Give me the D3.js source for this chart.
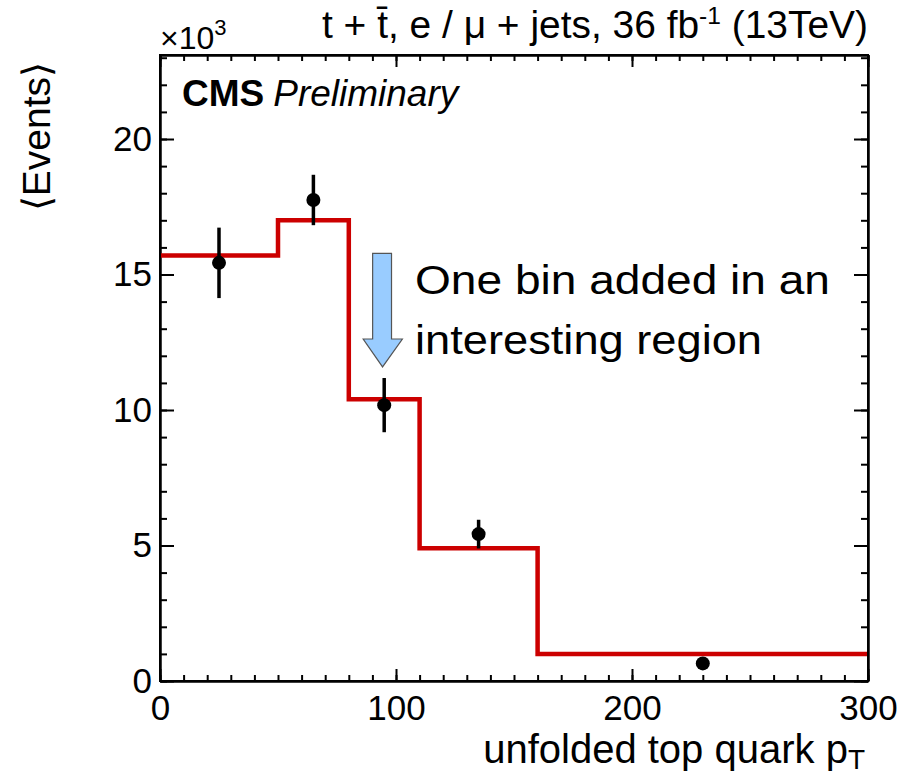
<!DOCTYPE html>
<html><head><meta charset="utf-8">
<script src="https://cdn.jsdelivr.net/npm/d3@7"></script>
<style>
body{margin:0;background:#fff}
text{font-family:"Liberation Sans",Arial,sans-serif;fill:#000}
</style>
</head><body><svg id="c" width="916" height="778"></svg>
<script>
// ---- data ----
const binEdges   = [0, 50, 80, 110, 160, 300];
const predicted  = [15.7, 17.0, 10.4, 4.9, 1.0];      // x10^3 events (red histogram)
const dataValues = [15.43, 17.75, 10.18, 5.42, 0.65];  // x10^3 events (points)
const dataErrors = [1.3, 0.93, 1.0, 0.53, 0.1];
const xTickValues = [0, 100, 200, 300];
const yTickValues = [0, 5, 10, 15, 20];
const xMinorTicks = d3.range(0, 301, 10);
const yMinorTicks = d3.range(0, 23.01, 1);
const arrowShape = [ // annotation arrow in data units [x, y]
  [90.1, 15.78], [98.1, 15.78], [98.1, 12.62], [102.7, 12.62],
  [94.3, 11.59], [86.1, 12.62], [90.1, 12.62]
];
const noteLines = ["One bin added in an", "interesting region"];

// ---- layout ----
const L = 160, R = 868, T = 55, B = 681;
const svg = d3.select("#c");
svg.append("rect").attr("width", 916).attr("height", 778).attr("fill", "#fff");

const x = d3.scaleLinear().domain([0, 300]).range([L, R]);
const y = d3.scaleLinear().domain([0, 23.1]).range([B, T]);

function styleAxis(g) {
  g.selectAll("path.domain").attr("stroke", "#000").attr("stroke-width", 2);
  g.selectAll(".tick line").attr("stroke", "#000").attr("stroke-width", 2);
  g.selectAll("text").style("font-size", "35px").attr("fill", "#000")
   .style("font-family", '"Liberation Sans",Arial,sans-serif');
}

// minor ticks
svg.append("g").attr("transform", `translate(0,${B})`)
  .call(d3.axisBottom(x).tickValues(xMinorTicks).tickSize(-6).tickSizeOuter(0).tickFormat(""))
  .call(styleAxis);
svg.append("g").attr("transform", `translate(0,${T})`)
  .call(d3.axisTop(x).tickValues(xMinorTicks).tickSize(-6).tickSizeOuter(0).tickFormat(""))
  .call(styleAxis);
svg.append("g").attr("transform", `translate(${L},0)`)
  .call(d3.axisLeft(y).tickValues(yMinorTicks).tickSize(-7).tickSizeOuter(0).tickFormat(""))
  .call(styleAxis);
svg.append("g").attr("transform", `translate(${R},0)`)
  .call(d3.axisRight(y).tickValues(yMinorTicks).tickSize(-7).tickSizeOuter(0).tickFormat(""))
  .call(styleAxis);

// major ticks
svg.append("g").attr("transform", `translate(0,${B})`)
  .call(d3.axisBottom(x).tickValues(xTickValues).tickSize(-12).tickSizeOuter(0).tickPadding(14).tickFormat(d3.format("d")))
  .call(styleAxis);
svg.append("g").attr("transform", `translate(0,${T})`)
  .call(d3.axisTop(x).tickValues(xTickValues).tickSize(-12).tickSizeOuter(0).tickFormat(""))
  .call(styleAxis);
svg.append("g").attr("transform", `translate(${L},0)`)
  .call(d3.axisLeft(y).tickValues(yTickValues).tickSize(-14).tickSizeOuter(0).tickPadding(8).tickFormat(d3.format("d")))
  .call(styleAxis);
svg.append("g").attr("transform", `translate(${R},0)`)
  .call(d3.axisRight(y).tickValues(yTickValues).tickSize(-14).tickSizeOuter(0).tickFormat(""))
  .call(styleAxis);

// histogram (red step)
const stepPts = predicted.map((v, i) => [binEdges[i], v]);
stepPts.push([binEdges[binEdges.length - 1], predicted[predicted.length - 1]]);
svg.append("path")
  .attr("d", d3.line().x(d => x(d[0])).y(d => y(d[1])).curve(d3.curveStepAfter)(stepPts))
  .attr("fill", "none").attr("stroke", "#cc0000").attr("stroke-width", 4.5);

// data points
const centers = predicted.map((_, i) => (binEdges[i] + binEdges[i + 1]) / 2);
const pts = svg.append("g");
dataValues.forEach((v, i) => {
  pts.append("line")
    .attr("x1", x(centers[i])).attr("x2", x(centers[i]))
    .attr("y1", y(v - dataErrors[i])).attr("y2", y(v + dataErrors[i]))
    .attr("stroke", "#000").attr("stroke-width", 3.5);
  pts.append("circle").attr("cx", x(centers[i])).attr("cy", y(v)).attr("r", 7).attr("fill", "#000");
});

// frame
svg.append("rect").attr("x", L).attr("y", T).attr("width", R - L).attr("height", B - T)
  .attr("fill", "none").attr("stroke", "#000").attr("stroke-width", 2);

// annotation arrow
svg.append("path")
  .attr("d", d3.line().x(d => x(d[0])).y(d => y(d[1]))(arrowShape) + "Z")
  .attr("fill", "#99ccff").attr("stroke", "#555").attr("stroke-width", 1.2);

// annotation text
const note = svg.append("g");
note.append("text").attr("x", 415).attr("y", 294).style("font-size", "41px")
  .attr("textLength", 415).attr("lengthAdjust", "spacingAndGlyphs").text(noteLines[0]);
note.append("text").attr("x", 415).attr("y", 354).style("font-size", "41px")
  .attr("textLength", 347).attr("lengthAdjust", "spacingAndGlyphs").text(noteLines[1]);

// CMS Preliminary
const cms = svg.append("text").attr("x", 182).attr("y", 106).style("font-size", "37px");
cms.append("tspan").style("font-weight", "bold").text("CMS");
cms.append("tspan").attr("dx", 9).style("font-style", "italic").text("Preliminary");

// x10^3
const mult = svg.append("text").attr("x", 160).attr("y", 49);
mult.append("tspan").style("font-size", "32px").text("\u00d710");
mult.append("tspan").attr("dy", -14).style("font-size", "22px").text("3");

// title
const title = svg.append("text").attr("x", R).attr("y", 38).attr("text-anchor", "end")
  .style("font-size", "38px").attr("textLength", 546).attr("lengthAdjust", "spacingAndGlyphs");
title.append("tspan").text("t + t\u0304, e / \u03bc + jets, 36 fb");
title.append("tspan").attr("dy", -14).style("font-size", "24px").text("-1");
title.append("tspan").attr("dy", 14).text(" (13TeV)");

// axis titles
const xt = svg.append("text").attr("x", R - 3).attr("y", 763).attr("text-anchor", "end").style("font-size", "40px");
xt.append("tspan").text("unfolded top quark p");
xt.append("tspan").attr("dy", 6).style("font-size", "28px").text("T");

svg.append("text").attr("transform", "translate(50,62) rotate(-90)")
  .attr("text-anchor", "end").style("font-size", "39px").text("\u27e8Events\u27e9");
</script>
</body></html>
